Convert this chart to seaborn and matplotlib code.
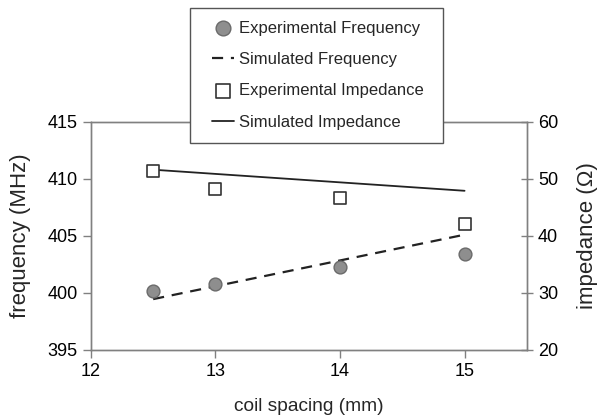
import pandas as pd
import seaborn as sns
import matplotlib.pyplot as plt
from matplotlib.patches import Rectangle

# coil spacing (mm)
spacing = [12.5, 13, 14, 15]
exp_freq = [400.2, 400.75, 402.3, 403.4]
exp_imp = [51.3, 48.2, 46.6, 42.05]
sim_spacing = [12.5, 15]
sim_freq = [399.45, 405.1]
sim_imp = [51.6, 47.9]

exp_df = pd.DataFrame({'spacing': spacing, 'freq': exp_freq, 'imp': exp_imp})
sim_df = pd.DataFrame({'spacing': sim_spacing, 'freq': sim_freq, 'imp': sim_imp})

sns.set_style('white')
plt.rcParams['font.family'] = ['Liberation Sans', 'DejaVu Sans']

fig = plt.figure(figsize=(5.98, 4.2), dpi=100)
ax = fig.add_axes([0.152, 0.167, 0.729, 0.543])
ax2 = ax.twinx()

sns.scatterplot(data=exp_df, x='spacing', y='freq', ax=ax, color='#8e8e8e',
                edgecolor='#6a6a6a', linewidth=1, s=85, zorder=3,
                label='Experimental Frequency', legend=False)
sns.lineplot(data=sim_df, x='spacing', y='freq', ax=ax, color='#222222',
             linewidth=1.6, dashes=(5, 3.5), label='Simulated Frequency', legend=False)
sns.scatterplot(data=exp_df, x='spacing', y='imp', ax=ax2, marker='s', color='white',
                edgecolor='#333333', linewidth=1.2, s=80, zorder=3,
                label='Experimental Impedance', legend=False)
sns.lineplot(data=sim_df, x='spacing', y='imp', ax=ax2, color='#222222',
             linewidth=1.3, label='Simulated Impedance', legend=False)

ax.set_xlim(12, 15.5)
ax.set_ylim(395, 415)
ax2.set_ylim(20, 60)
ax.set_xticks([12, 13, 14, 15])
ax.set_yticks([395, 400, 405, 410, 415])
ax2.set_yticks([20, 30, 40, 50, 60])

ax.set_xlabel('coil spacing (mm)', fontsize=13.8, labelpad=13)
ax.set_ylabel('frequency (MHz)', fontsize=16)
ax2.set_ylabel('impedance (Ω)', fontsize=16)
ax.yaxis.set_label_coords(-0.137, 0.5)
ax2.yaxis.set_label_coords(1.115, 0.5)

for a in (ax, ax2):
    for s in a.spines.values():
        s.set_color('#808080')
        s.set_linewidth(1)
    a.tick_params(labelsize=13, colors='black', length=6, width=1, color='#808080')
ax.tick_params(axis='both', direction='out', left=True, bottom=True)
ax2.tick_params(axis='y', direction='inout', right=True, length=9)

# legend box sitting over the top of the axes
box = Rectangle((190 / 598, 1 - 143 / 420), 253 / 598, 135 / 420,
                transform=fig.transFigure, facecolor='white',
                edgecolor='#555555', linewidth=1, zorder=5)
fig.patches.append(box)

h1, l1 = ax.get_legend_handles_labels()
h2, l2 = ax2.get_legend_handles_labels()
leg = fig.legend(h1 + h2, l1 + l2, loc='center',
                 bbox_to_anchor=(318 / 598, 1 - 75 / 420),
                 fontsize=12, frameon=False, handlelength=1.3, markerscale=1.15,
                 handletextpad=0.3, labelspacing=0.98, borderpad=0, borderaxespad=0)
leg.set_zorder(10)

fig.savefig('out.png', dpi=100)
